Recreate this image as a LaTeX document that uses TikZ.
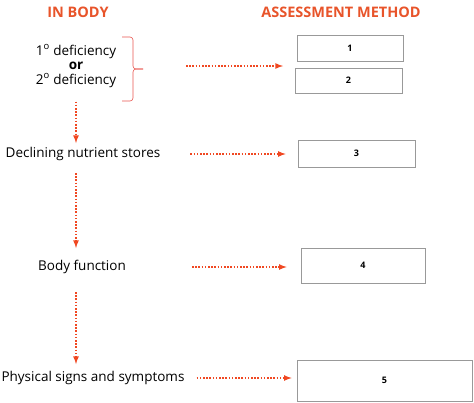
\documentclass[tikz,border=0pt]{standalone}
\usepackage{fontspec}
\setmainfont{Open Sans}
\definecolor{headred}{RGB}{232,84,42}
\definecolor{arrred}{RGB}{240,72,34}
\definecolor{bracered}{RGB}{232,84,78}
\begin{document}
\begin{tikzpicture}[x=1pt, y=-1pt, >=latex]
\tikzset{abox/.style={draw=black!40, semithick, rectangle, inner sep=0, font=\fontsize{9}{10}\selectfont\bfseries},
  stage/.style={font=\fontsize{13.5}{15.5}\selectfont, inner sep=1pt},
  head/.style={font=\fontsize{14.5}{16}\selectfont\bfseries, text=headred},
  dotarrow/.style={draw=arrred, line width=1.6pt, dash pattern=on 1.6pt off 1.6pt, ->}}
\useasboundingbox (0,0) rectangle (474,402);
%% define coordinate grid
\def \xbody {76}
\def \ydef {66}
\def \ydecl {154}
\def \yfunc {267}
\def \ysign {378}

%% headings
\node[head] (inbody) at (78,12) {IN BODY};
\node[head] (assess) at (341,12) {ASSESSMENT METHOD};

%% in body
\node[stage, align=center] (defic) at (\xbody,\ydef) {1\textsuperscript{o} deficiency\\[-1pt]\textbf{or}\\[-1pt]2\textsuperscript{o} deficiency};
\node[stage] (decl) at (83,\ydecl) {Declining nutrient stores};
\node[stage] (func) at (82,\yfunc) {Body function};
\node[stage] (sign) at (93,\ysign) {Physical signs and symptoms};

% brace
\draw[bracered, semithick, rounded corners=3pt] (122,37) -| (133,69) -- (143,69);
\draw[bracered, semithick, rounded corners=3pt] (143,69) -- (133,69) |- (122,101);

%% assessment method
\node[abox, minimum width=106pt, minimum height=26pt] (box1) at (350,48) {1};
\node[abox, minimum width=107pt, minimum height=25pt] (box2) at (348.5,80.5) {2};
\node[abox, minimum width=117pt, minimum height=27pt] (box3) at (356.5,153.5) {3};
\node[abox, minimum width=124pt, minimum height=35pt] (box4) at (363,265.5) {4};
\node[abox, minimum width=175pt, minimum height=41pt] (box5) at (384.5,380.5) {5};

% paths
\coordinate (a1start) at (186,\ydef);
\coordinate (a1end) at (283,\ydef);
\draw[dotarrow] (a1start) -- (a1end);
\draw[dotarrow, shorten <=29pt, shorten >=12pt] (decl) -- (decl -| box3.west);
\draw[dotarrow, shorten <=65pt, shorten >=14pt] (func) -- (func -| box4.west);
\draw[dotarrow, shorten <=11pt, shorten >=5pt] (sign) -- (sign -| box5.west);
\draw[dotarrow, shorten <=13pt, shorten >=3pt] (defic.south) -- (defic.south |- decl.north);
\draw[dotarrow, shorten <=11pt, shorten >=11pt] (\xbody,\ydecl) ++(0,8) coordinate (v2start) -- (v2start |- func.north);
\draw[dotarrow, shorten <=17pt, shorten >=6pt] (\xbody,\yfunc) ++(0,8) coordinate (v3start) -- (v3start |- sign.north);
\end{tikzpicture}
\end{document}
